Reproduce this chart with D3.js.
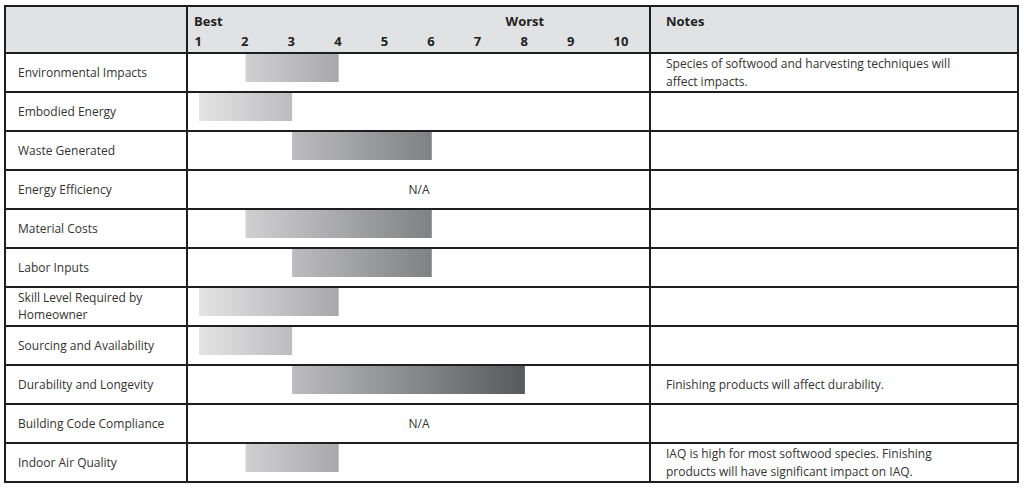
<!DOCTYPE html>
<html>
<head>
<meta charset="utf-8">
<script src="https://cdn.jsdelivr.net/npm/d3@7"></script>
<style>
  html,body{margin:0;padding:0;background:#fff;}
  svg{display:block;font-family:"Open Sans",sans-serif;}
</style>
</head>
<body>
<svg id="chart" width="1024" height="488"></svg>
<script>
// ---- data ----
const categories = [
  ["Environmental Impacts"],
  ["Embodied Energy"],
  ["Waste Generated"],
  ["Energy Efficiency"],
  ["Material Costs"],
  ["Labor Inputs"],
  ["Skill Level Required by", "Homeowner"],
  ["Sourcing and Availability"],
  ["Durability and Longevity"],
  ["Building Code Compliance"],
  ["Indoor Air Quality"]
];
const rangeStart = [2, 1, 3, null, 2, 3, 1, 1, 3, null, 2];
const rangeEnd   = [4, 3, 6, null, 6, 6, 4, 3, 8, null, 4];
const notes = [
  ["Species of softwood and harvesting techniques will", "affect impacts."],
  [], [], [], [], [], [], [],
  ["Finishing products will affect durability."],
  [],
  ["IAQ is high for most softwood species. Finishing", "products will have significant impact on IAQ."]
];
const tickValues = [1,2,3,4,5,6,7,8,9,10];
const bestLabel = "Best", worstLabel = "Worst", notesLabel = "Notes", naLabel = "N/A";

// ---- layout ----
const svg = d3.select("#chart");
const L = 5, R = 1018, T = 6, headerB = 53, rowH = 39;
const col1 = 187, col2 = 650;
const B = headerB + rowH * categories.length;

const x = d3.scaleLinear().domain([1, 10]).range([199, 618]);
const y = d3.scaleBand().domain(d3.range(categories.length)).range([headerB, B]).padding(0);

// gradient
const defs = svg.append("defs");
const grad = defs.append("linearGradient").attr("id", "barGrad")
  .attr("gradientUnits", "userSpaceOnUse")
  .attr("x1", x(1)).attr("x2", x(8)).attr("y1", 0).attr("y2", 0);
grad.append("stop").attr("offset", 0).attr("stop-color", "#e4e4e5");
grad.append("stop").attr("offset", 1).attr("stop-color", "#58595c");

// header background
svg.append("rect").attr("x", L).attr("y", T).attr("width", R - L).attr("height", headerB - T)
  .attr("fill", "#e1e2e3");

// bars
svg.append("g").selectAll("rect")
  .data(d3.range(categories.length).filter(i => rangeStart[i] != null))
  .join("rect")
  .attr("x", i => x(rangeStart[i]))
  .attr("y", i => y(i) + 1)
  .attr("width", i => x(rangeEnd[i]) - x(rangeStart[i]))
  .attr("height", 28)
  .attr("fill", "url(#barGrad)");

// N/A labels
svg.append("g").selectAll("text")
  .data(d3.range(categories.length).filter(i => rangeStart[i] == null))
  .join("text")
  .attr("x", (x.range()[0] + x.range()[1]) / 2)
  .attr("y", i => y(i) + y.bandwidth() / 2 + 4)
  .attr("font-size", 12).attr("fill", "#333")
  .text(naLabel);

// category labels
const catG = svg.append("g");
categories.forEach((lines, i) => {
  const t = catG.append("text").attr("font-size", 12).attr("fill", "#333");
  const cy = y(i) + y.bandwidth() / 2 + 4 - (lines.length - 1) * 8.5;
  lines.forEach((ln, k) => {
    t.append("tspan").attr("x", 18).attr("y", cy + k * 17).text(ln);
  });
});

// notes
const noteG = svg.append("g");
notes.forEach((lines, i) => {
  if (!lines.length) return;
  const t = noteG.append("text").attr("font-size", 12).attr("fill", "#333");
  const cy = y(i) + y.bandwidth() / 2 + 4 - (lines.length - 1) * 9;
  lines.forEach((ln, k) => {
    t.append("tspan").attr("x", 666).attr("y", cy + k * 18).text(ln);
  });
});

// header texts
const hdr = svg.append("g").attr("fill", "#222");
hdr.append("text").attr("x", 194).attr("y", 26).attr("font-size", 13).attr("font-weight", "bold").text(bestLabel);
hdr.append("text").attr("x", x(8)).attr("y", 26).attr("text-anchor", "middle")
  .attr("font-size", 13).attr("font-weight", "bold").text(worstLabel);
hdr.append("text").attr("x", 666).attr("y", 26).attr("font-size", 13).attr("font-weight", "bold").text(notesLabel);

// tick labels via axis
const axisG = svg.append("g").attr("transform", `translate(0,${46})`)
  .call(d3.axisTop(x).tickValues(tickValues).tickSize(0).tickPadding(0).tickFormat(d3.format("d")));
axisG.select(".domain").remove();
axisG.selectAll("text")
  .attr("text-anchor", "start").attr("dx", -5).attr("dy", 0)
  .attr("font-size", 13).attr("font-weight", "bold").attr("font-family", "Open Sans, sans-serif")
  .attr("fill", "#222");

// grid lines
const lineG = svg.append("g").attr("stroke", "#1e1e1e").attr("stroke-width", 2).attr("fill", "none");
// horizontal lines
d3.range(categories.length + 1).forEach(k => {
  const yy = headerB + k * rowH;
  lineG.append("line").attr("x1", L).attr("x2", R).attr("y1", yy).attr("y2", yy);
});
lineG.append("line").attr("x1", L).attr("x2", R).attr("y1", T).attr("y2", T);
[L, col1, col2, R].forEach(xx => {
  lineG.append("line").attr("x1", xx).attr("x2", xx).attr("y1", T - 1).attr("y2", B + 1);
});
</script>
</body>
</html>
